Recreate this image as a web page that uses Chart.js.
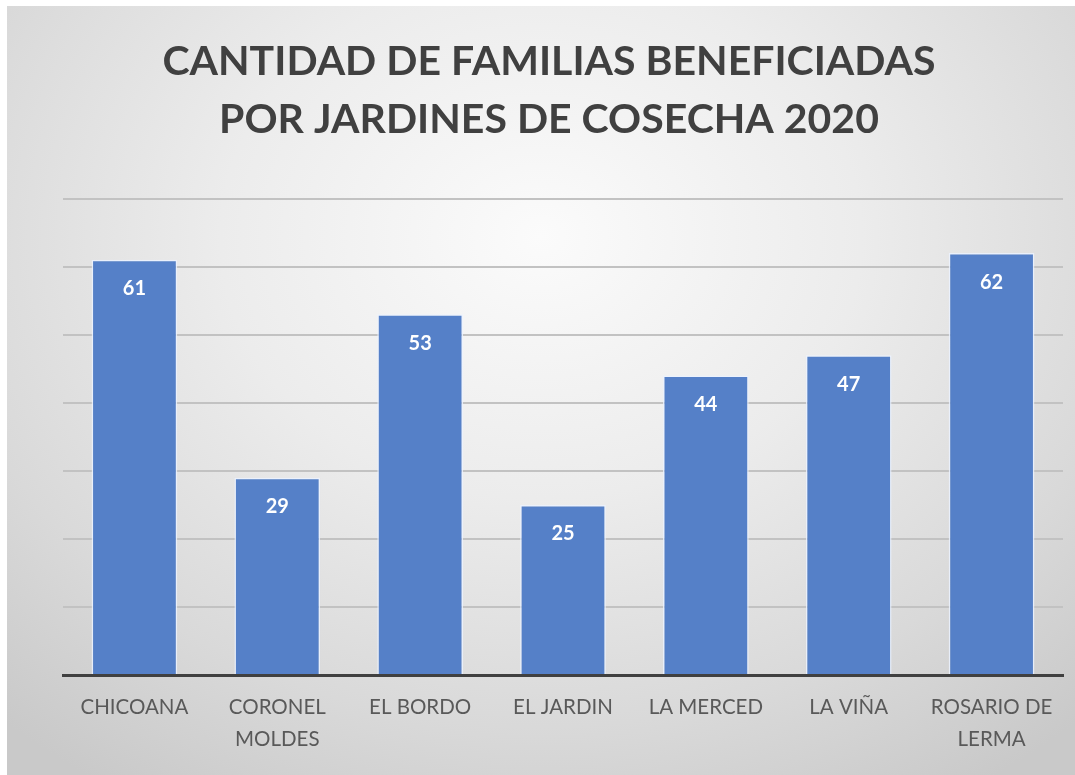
<!DOCTYPE html>
<html lang="es">
<head>
  <meta charset="UTF-8" />
  <title>Familias beneficiadas 2020</title>
  <script src="https://cdn.jsdelivr.net/npm/chart.js"></script>
  <style>
    html, body { margin: 0; padding: 0; background: #fff; }
    .panel {
      position: absolute; left: 7px; top: 6px; width: 1068px; height: 769px;
      background: radial-gradient(ellipse 75% 85% at 50% 30%, #fbfbfb 0%, #ececec 40%, #d9d9d9 75%, #c9c9c9 100%);
    }
    #chart { display: block; }
  </style>
</head>
<body>
  <div class="panel">
    <canvas id="chart" width="1068" height="769"></canvas>
  </div>

  <script>
    // datos
    const categories = ['CHICOANA', ['CORONEL', 'MOLDES'], 'EL BORDO', 'EL JARDIN', 'LA MERCED', 'LA VIÑA', ['ROSARIO DE', 'LERMA']];
    const familias = [61, 29, 53, 25, 44, 47, 62];
    const titleLines = ['CANTIDAD DE FAMILIAS BENEFICIADAS', 'POR JARDINES DE COSECHA 2020'];

    // etiquetas blancas dentro de cada barra
    const barLabels = {
      id: 'barLabels',
      afterDatasetsDraw(chart) {
        const ctx = chart.ctx;
        const meta = chart.getDatasetMeta(0);
        ctx.save();
        ctx.fillStyle = '#ffffff';
        ctx.font = 'bold 20px Lato';
        ctx.textAlign = 'center';
        ctx.textBaseline = 'middle';
        meta.data.forEach((bar, i) => {
          ctx.fillText(familias[i], bar.x, bar.y + 29);
        });
        ctx.restore();
      }
    };

    new Chart(document.getElementById('chart'), {
      type: 'bar',
      data: {
        labels: categories,
        datasets: [{
          data: familias,
          backgroundColor: '#5580c8',
          borderColor: 'rgba(235,242,255,0.85)',
          borderWidth: 1.5,
          categoryPercentage: 1,
          barPercentage: 0.6
        }]
      },
      options: {
        responsive: false,
        animation: false,
        layout: { padding: { left: 16, right: 0, top: 27, bottom: 12 } },
        plugins: {
          legend: { display: false },
          tooltip: { enabled: false },
          title: {
            display: true,
            text: titleLines,
            color: '#404040',
            font: { family: 'Lato', size: 41, weight: 'bold', lineHeight: 1.41 },
            padding: { top: 0, bottom: 50 }
          }
        },
        scales: {
          x: {
            grid: { display: false },
            border: { display: true, color: '#404040', width: 3 },
            ticks: {
              color: '#595959',
              font: { family: 'Lato', size: 20.5, lineHeight: 1.56 },
              padding: 8,
              maxRotation: 0,
              autoSkip: false
            }
          },
          y: {
            min: 0,
            max: 70,
            afterFit(scale) { scale.width = 40; },
            ticks: { display: false, stepSize: 10 },
            border: { display: false },
            grid: {
              drawTicks: false,
              lineWidth: 2,
              color: (c) => c.tick && c.tick.value === 0 ? 'rgba(0,0,0,0)' : '#c2c2c2'
            }
          },
          y2: {
            position: 'right',
            display: true,
            afterFit(scale) { scale.width = 12; },
            ticks: { display: false },
            border: { display: false },
            grid: { display: false }
          }
        }
      },
      plugins: [barLabels]
    });
  </script>
</body>
</html>
